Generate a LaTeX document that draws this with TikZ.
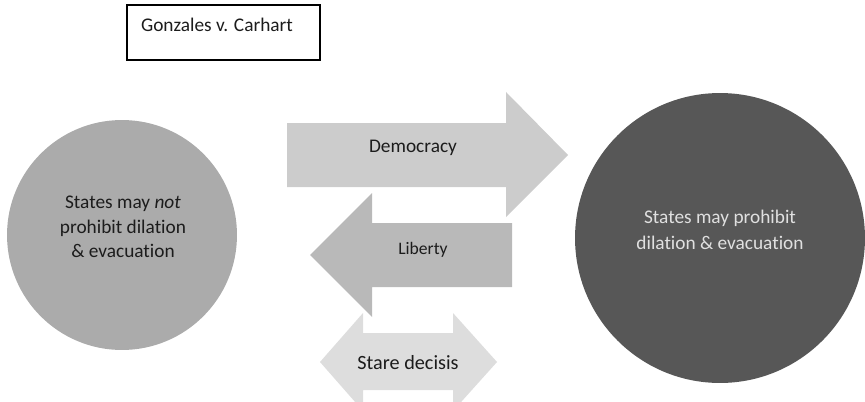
\documentclass[tikz,border=0pt]{standalone}
\usepackage{fontspec}
\setmainfont{Carlito}[Ligatures=NoCommon]
\usepackage{xcolor}
\usepackage{tikz}
\definecolor{notgray}{HTML}{ABABAB}
\definecolor{maygray}{HTML}{575757}
\definecolor{demgray}{HTML}{CCCCCC}
\definecolor{libgray}{HTML}{B9B9B9}
\definecolor{stagray}{HTML}{DDDDDD}
\definecolor{inkgray}{HTML}{1C1C1C}
\begin{document}
\begin{tikzpicture}[x=0.02cm,y=-0.02cm,
    lbl/.style={font=\fontsize{11}{14}\selectfont, text=inkgray, align=center, inner sep=0pt},
    disc/.style={circle, inner sep=0pt}]
    \useasboundingbox (0,0) rectangle (865,402);
    % case name
    \draw[line width=0.6pt] (127,5) rectangle (320,60);
    \node[lbl] (case) at (217,25) {Gonzales v. Carhart};
    % the two holdings
    \node[disc, fill=notgray, minimum size=4.6cm] (notdisc) at (122,235) {};
    \node[lbl] (nottxt) at (123,227) {States may \textit{not}\\prohibit dilation\\\& evacuation};
    \node[disc, fill=maygray, minimum size=5.8cm] (maydisc) at (720,238) {};
    \node[lbl, text=white!88!black, font=\fontsize{11}{14.6}\selectfont] (maytxt) at (720,230) {States may prohibit\\dilation \& evacuation};
    % arrows
    \fill[demgray] (287,123) -- (506,123) -- (506,92) -- (568,155) -- (506,217) -- (506,187) -- (287,187) -- cycle;
    \node[lbl] (dem) at (413,148) {Democracy};
    \fill[libgray] (512,223) -- (372,223) -- (372,193) -- (310,255) -- (372,317) -- (372,287) -- (512,287) -- cycle;
    \node[lbl, font=\fontsize{10}{12}\selectfont] (lib) at (423,250) {Liberty};
    \fill[stagray] (320,362) -- (363,313) -- (363,333) -- (453,333) -- (453,313) -- (497,362)
      -- (453,411) -- (453,390) -- (363,390) -- (363,411) -- cycle;
    \node[lbl, font=\fontsize{11.5}{14}\selectfont] (sta) at (408,363) {Stare decisis};
\end{tikzpicture}
\end{document}
